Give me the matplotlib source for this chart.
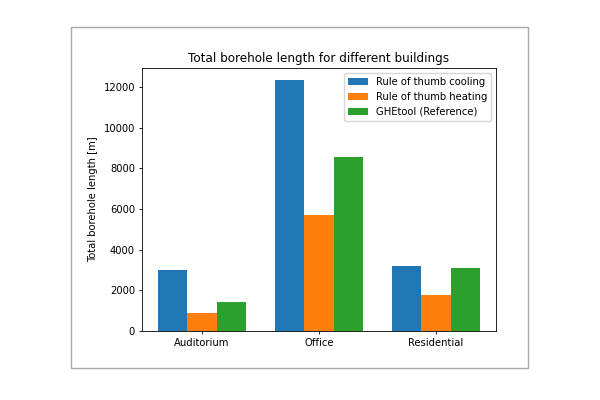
import matplotlib
matplotlib.use("Agg")
import matplotlib.pyplot as plt
import numpy as np
from matplotlib.patches import Rectangle

buildings = ["Auditorium", "Office", "Residential"]
series_names = ["Rule of thumb cooling", "Rule of thumb heating", "GHEtool (Reference)"]
cooling = [3000, 12350, 3210]
heating = [860, 5710, 1760]
ghetool = [1400, 8580, 3090]

FS = 7.2

fig = plt.figure(figsize=(6, 4), dpi=100)
# grey frame around the embedded plot
fig.patches.append(Rectangle((71 / 600, 1 - 368 / 400), 457 / 600, 341 / 400,
                             transform=fig.transFigure, fill=False,
                             edgecolor="#a8a8a8", linewidth=1.0))

ax = fig.add_axes([142 / 600, 1 - 330.7 / 400, 354 / 600, 263 / 400])

x = np.arange(len(buildings))
w = 0.25
for i, (vals, name) in enumerate(zip([cooling, heating, ghetool], series_names)):
    ax.bar(x + (i - 1) * w, vals, w, label=name, color=f"C{i}")

ax.set_xticks(x)
ax.set_xticklabels(buildings)
ax.set_ylabel("Total borehole length [m]", fontsize=FS)
ax.set_title("Total borehole length for different buildings", fontsize=FS * 1.2, pad=4)
ax.tick_params(labelsize=FS, width=0.6, length=2.5, pad=2.5)
for s in ax.spines.values():
    s.set_linewidth(0.6)
ax.legend(loc="upper right", fontsize=FS, handlelength=2.0, borderpad=0.4,
          labelspacing=0.5)

fig.savefig("out.png", dpi=100)
